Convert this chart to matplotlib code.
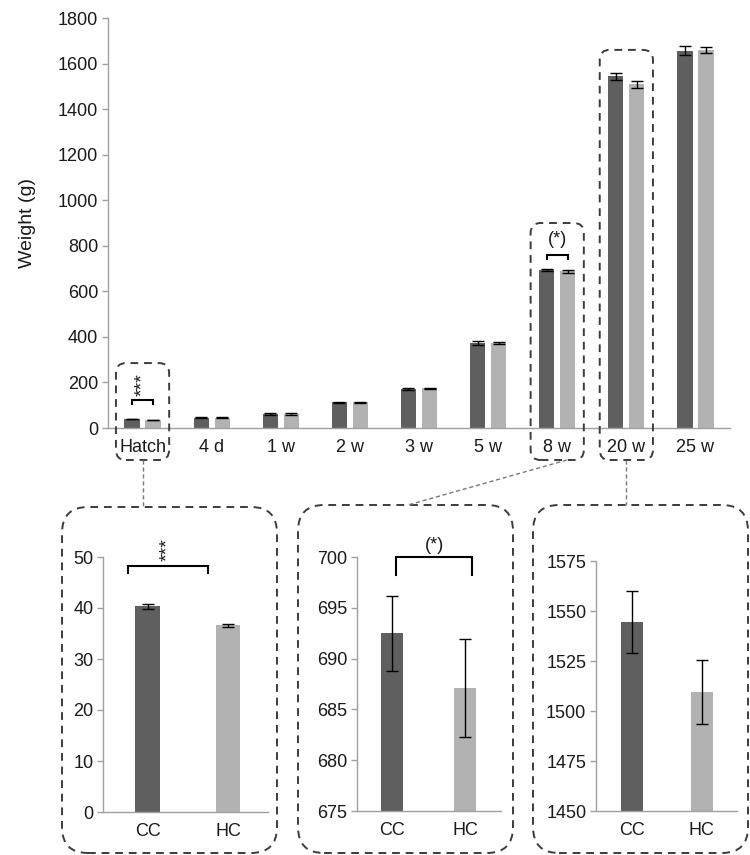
import matplotlib
matplotlib.use("Agg")
import matplotlib.pyplot as plt
from matplotlib.patches import FancyBboxPatch
import numpy as np

plt.rcParams['font.family'] = ['Liberation Sans', 'DejaVu Sans']

# ---------------- data ----------------
categories = ["Hatch", "4 d", "1 w", "2 w", "3 w", "5 w", "8 w", "20 w", "25 w"]
cc_mean = [40.3, 46, 61, 112, 171, 373, 692.5, 1544.5, 1657]
hc_mean = [36.6, 46, 62, 113, 174, 373, 687.1, 1509.5, 1659]
cc_err = [0.4, 2, 3, 3, 3, 8, 3.7, 15.5, 18]
hc_err = [0.25, 2, 3, 3, 3, 4, 4.8, 16, 14]

groups = ["CC", "HC"]
inset_idx = [0, 6, 7]
inset_ylims = [(0, 50), (675, 700), (1450, 1575)]
inset_ticks = [np.arange(0, 51, 10), np.arange(675, 701, 5), np.arange(1450, 1576, 25)]

dark = "#5f5f5f"
light = "#b2b2b2"
axis_grey = "#a0a0a0"
txt = "#1a1a1a"
box_col = "#3c3c3c"

W, H = 750, 855
fig = plt.figure(figsize=(W / 100, H / 100), dpi=100)


def px_axes(left, top, right, bottom):
    return fig.add_axes([left / W, 1 - bottom / H, (right - left) / W, (bottom - top) / H])


def style_axes(ax, fs_y, fs_x):
    for s in ["top", "right"]:
        ax.spines[s].set_visible(False)
    for s in ["left", "bottom"]:
        ax.spines[s].set_color(axis_grey)
        ax.spines[s].set_linewidth(1.0)
    ax.tick_params(axis="y", colors=axis_grey, labelcolor=txt, labelsize=fs_y, length=4, width=1, pad=3)
    ax.tick_params(axis="x", length=0, labelcolor=txt, labelsize=fs_x, pad=8)


# ---------------- main chart ----------------
ax = px_axes(108, 18, 730, 428)
x = np.arange(len(categories))
bw = 0.22
off = 0.152
ekw = dict(ecolor="black", elinewidth=1, capsize=4, capthick=1)
ax.bar(x - off, cc_mean, bw, color=dark, yerr=cc_err, error_kw=ekw, zorder=2)
ax.bar(x + off, hc_mean, bw, color=light, yerr=hc_err, error_kw=ekw, zorder=2)
ax.set_xlim(-0.5, len(categories) - 0.5)
ax.set_ylim(0, 1800)
ax.set_yticks(np.arange(0, 1801, 200))
ax.set_xticks(x)
ax.set_xticklabels(categories)
style_axes(ax, 13, 13)
ax.set_ylabel("Weight (g)", fontsize=14, color=txt, labelpad=16)


def bracket(a, x0, x1, y, drop, lw=1.5):
    a.plot([x0, x0, x1, x1], [y - drop, y, y, y - drop], color="black", lw=lw,
           solid_joinstyle="miter", clip_on=False, zorder=5)


# significance in main chart
bracket(ax, 0 - off, 0 + off, 123, 18)
ax.text(0, 140, "***", rotation=90, ha="center", va="bottom", fontsize=14, color=txt)
bracket(ax, 6 - off, 6 + off, 760, 18)
ax.text(6, 790, "(*)", ha="center", va="bottom", fontsize=13, color=txt)

# ---------------- insets ----------------
inset_px = [(103, 557, 268, 812), (357, 557, 501, 811), (596, 561, 737, 811)]
inset_xlim = [(-0.56, 1.5), (-0.48, 1.49), (-0.51, 1.5)]
inset_bw = [0.31, 0.30, 0.31]
inset_axes = []
for k, i in enumerate(inset_idx):
    a = px_axes(*inset_px[k])
    vals = [cc_mean[i], hc_mean[i]]
    errs = [cc_err[i], hc_err[i]]
    a.bar([0, 1], vals, inset_bw[k], color=[dark, light], yerr=errs,
          error_kw=dict(ecolor="black", elinewidth=1, capsize=4, capthick=1), zorder=2)
    a.set_ylim(*inset_ylims[k])
    a.set_yticks(inset_ticks[k])
    a.set_xlim(*inset_xlim[k])
    a.set_xticks([0, 1])
    a.set_xticklabels(groups)
    style_axes(a, 13, 13)
    inset_axes.append(a)

# inset significance
a = inset_axes[0]
bracket(a, -0.25, 0.75, 48.2, 1.4)
a.text(0.25, 49.2, "***", rotation=90, ha="center", va="bottom", fontsize=14, color=txt)
a = inset_axes[1]
bracket(a, 0.05, 1.1, 700, 1.8)
a.text(0.58, 700.3, "(*)", ha="center", va="bottom", fontsize=13, color=txt)

# ---------------- overlay: dashed boxes and connectors ----------------
ov = fig.add_axes([0, 0, 1, 1], zorder=10)
ov.set_xlim(0, W)
ov.set_ylim(0, H)
ov.axis("off")
ov.patch.set_alpha(0)


def rbox(x0, y0, x1, y1, r, lw=1.4):
    p = FancyBboxPatch((x0, y0), x1 - x0, y1 - y0,
                       boxstyle=f"round,pad=0,rounding_size={r}",
                       fill=False, ec=box_col, lw=lw, ls=(0, (4, 3)))
    ov.add_patch(p)


# main chart highlight boxes (positions derived from data transform)
box_tops = {0: 285, 6: 900, 7: 1660}
half = 0.385
bottom_px = H - 460
conn_pts = {}
for i, top in box_tops.items():
    xl, yt = ax.transData.transform((i - half, top))
    xr, _ = ax.transData.transform((i + half, top))
    rbox(xl, bottom_px, xr, yt, 10)
    conn_pts[i] = (xl, xr)

# inset boxes
inset_boxes = [(62, 507, 277, 853), (298, 505, 513, 853), (533, 505, 748, 853)]
for (l, t, r, b) in inset_boxes:
    rbox(l, H - b, r, H - t, 26)

# connectors
cstyle = dict(color="#7a7a7a", lw=1.0, ls=(0, (3, 2)))
xc0 = ax.transData.transform((0, 0))[0]
ov.plot([xc0, xc0], [bottom_px, H - 506], **cstyle)
xl6, xr6 = conn_pts[6]
ov.plot([xr6 - 17, 408], [bottom_px, H - 505], **cstyle)
xc7 = ax.transData.transform((7, 0))[0]
ov.plot([xc7, xc7], [bottom_px, H - 505], **cstyle)

fig.savefig("out.png", dpi=100)
